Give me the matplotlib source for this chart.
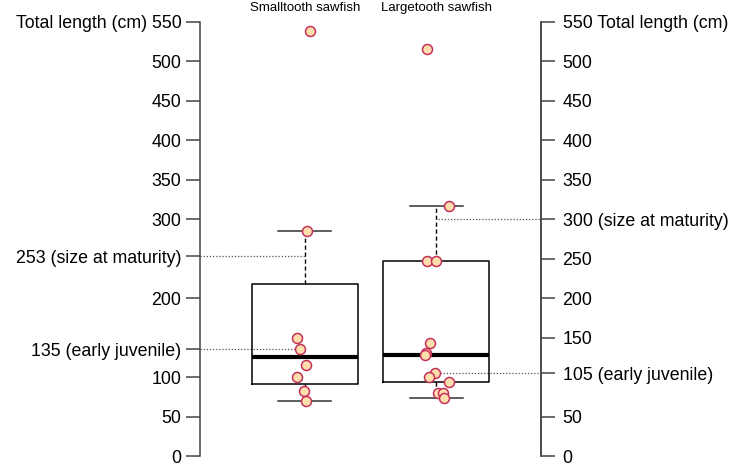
import numpy as np
import matplotlib
matplotlib.use("Agg")
import matplotlib.pyplot as plt

plt.rcParams['font.family'] = ['Liberation Sans', 'DejaVu Sans']

species = ["Smalltooth sawfish", "Largetooth sawfish"]

# total lengths (cm), with the horizontal jitter of each point
small_len = [538, 285, 150, 135, 115, 100, 82, 70]
small_jit = [0.04, 0.013, -0.063, -0.038, 0.008, -0.061, -0.01, 0.005]
large_len = [516, 317, 247.5, 247.5, 143, 131, 128, 105.6, 100, 93.4, 80, 80, 73.5]
large_jit = [-0.075, 0.097, -0.075, -0.004, -0.049, -0.08, -0.09, -0.014,
             -0.055, 0.093, 0.011, 0.052, 0.057]

left_ticks = [0, 50, 100, 135, 200, 253, 300, 350, 400, 450, 500, 550]
left_labels = ["0", "50", "100", "135 (early juvenile)", "200", "253 (size at maturity)",
               "300", "350", "400", "450", "500", "Total length (cm) 550"]
right_ticks = [0, 50, 105, 150, 200, 250, 300, 350, 400, 450, 500, 550]
right_labels = ["0", "50", "105 (early juvenile)", "150", "200", "250",
                "300 (size at maturity)", "350", "400", "450", "500", "550 Total length (cm)"]

# reference lines: (value, x where the dotted line stops)
left_refs = [(253, 1.0), (135, 0.924)]
right_refs = [(300, 2.011), (105.6, 2.027)]

XMIN, XMAX = 0.2015, 2.795


def fivenum_stats(vals, label):
    v = np.sort(np.asarray(vals, float))
    n = len(v)
    med = np.median(v)
    half = (n + 1) // 2
    q1 = np.median(v[:half])
    q3 = np.median(v[n - half:])
    iqr = q3 - q1
    hi = v[v <= q3 + 1.5 * iqr].max()
    lo = v[v >= q1 - 1.5 * iqr].min()
    return dict(med=med, q1=q1, q3=q3, whislo=lo, whishi=hi, fliers=[], label=label)


fig = plt.figure(figsize=(7.29, 4.65), dpi=100)
W, H = 729, 465
ax = fig.add_axes([200 / W, 1 - 456 / H, 341 / W, 434 / H])

stats = [fivenum_stats(small_len, species[0]), fivenum_stats(large_len, species[1])]
ax.bxp(stats, positions=[1, 2], widths=0.806, showfliers=False,
       boxprops=dict(color='black', lw=1.1),
       medianprops=dict(color='black', lw=3),
       whiskerprops=dict(color='black', lw=1, linestyle=(0, (3, 2))),
       capprops=dict(color='#333333', lw=1.1),
       capwidths=0.403)

for pos, lens, jit in [(1, small_len, small_jit), (2, large_len, large_jit)]:
    ax.plot(pos + np.array(jit), lens, 'o', ms=7.2, mfc='#FFDEAD', mec='#C4305A',
            mew=1.1, zorder=5)

for val, xe in left_refs:
    ax.plot([XMIN, xe], [val, val], color='#555555', lw=0.9, linestyle=(0, (1, 1.5)),
            clip_on=False, zorder=1)
for val, xe in right_refs:
    ax.plot([xe, XMAX], [val, val], color='#555555', lw=0.9, linestyle=(0, (1, 1.5)),
            clip_on=False, zorder=1)

ax.set_xlim(XMIN, XMAX)
ax.set_ylim(0, 550)
ax.set_xticks([])
for s in ['top', 'bottom']:
    ax.spines[s].set_visible(False)
for s in ['left', 'right']:
    ax.spines[s].set_color('#444444')
    ax.spines[s].set_linewidth(1.1)

ax.set_yticks(left_ticks)
ax.set_yticklabels(left_labels)
ax.tick_params(axis='y', left=True, right=False, length=10, width=1.1, color='#444444',
               pad=3.5, labelsize=12.8)

ax2 = ax.twinx()
ax2.set_ylim(0, 550)
ax2.set_yticks(right_ticks)
ax2.set_yticklabels(right_labels)
ax2.tick_params(axis='y', length=10, width=1.1, color='#444444', pad=5.5, labelsize=12.8)
for s in ['top', 'bottom', 'left']:
    ax2.spines[s].set_visible(False)
ax2.spines['right'].set_color('#444444')
ax2.spines['right'].set_linewidth(1.1)

for pos, name in zip([1, 2], species):
    ax.text(pos, 560, name, ha='center', va='bottom', fontsize=9.5)

fig.savefig("out.png", dpi=100)
